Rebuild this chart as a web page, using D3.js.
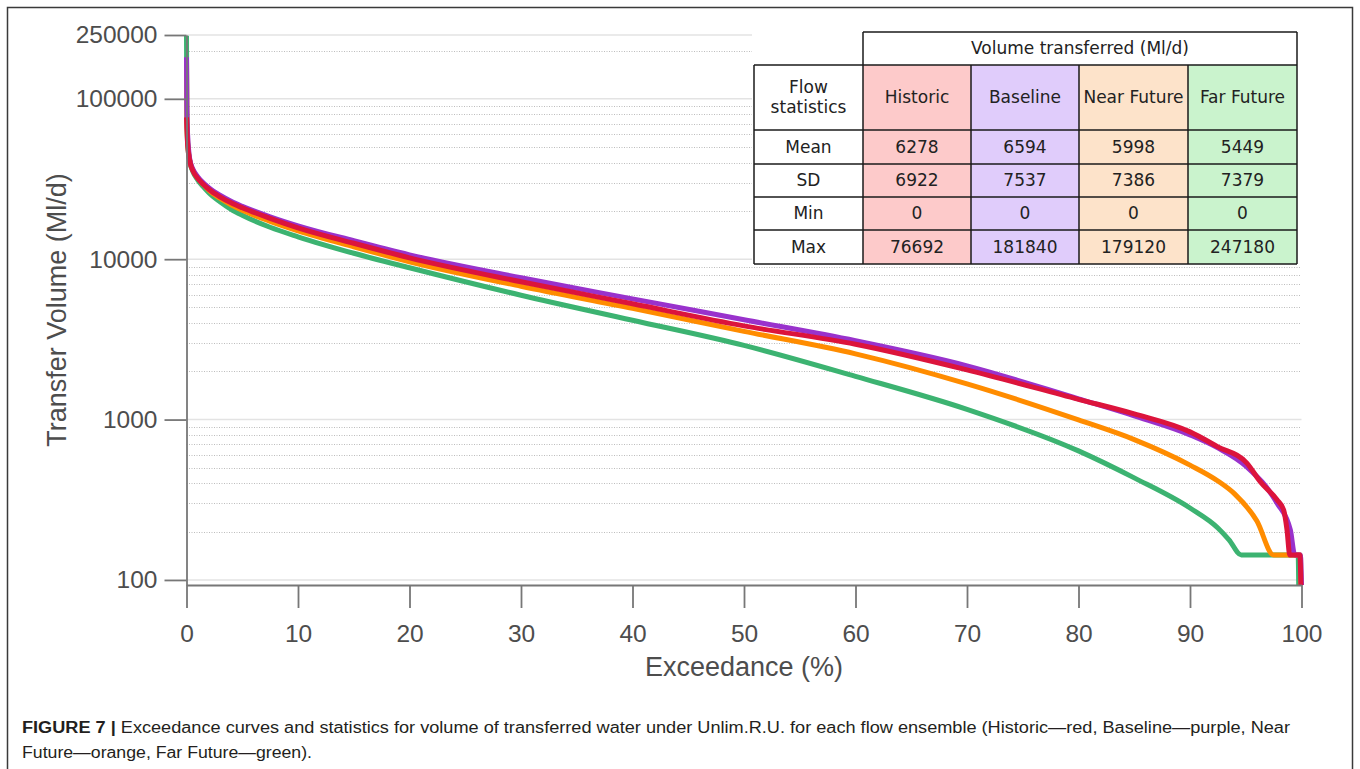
<!DOCTYPE html>
<html>
<head>
<meta charset="utf-8">
<script src="https://cdn.jsdelivr.net/npm/d3@7"></script>
<style>
  body { margin: 0; background: #fff; }
  svg { display: block; }
</style>
</head>
<body>
<div id="chartDiv"></div>
<script>
// exceedance (%) and transferred volume (Ml/d) per ensemble
var pctHistoric = [0, 0.05, 0.1, 0.3, 0.6, 1, 1.5, 2, 3, 4, 5, 7.5, 10, 15, 20, 30, 40, 50, 60, 70, 80, 85, 90, 92.5, 95.1, 96.3, 97.8, 98.4, 98.7, 98.95, 99.85, 99.95];
var volHistoric = [76692, 62000, 52000, 40800, 35300, 31960, 29330, 27300, 24500, 22480, 20930, 17990, 15700, 12570, 10200, 7230, 5270, 3840, 2950, 2042, 1337, 1085, 838, 676, 535, 410, 316, 273, 205, 143, 143, 0];

var pctBaseline = [0, 0.03, 0.1, 0.3, 0.6, 1, 1.5, 2, 3, 4, 5, 7.5, 10, 15, 20, 30, 40, 50, 60, 70, 80, 85, 90, 92.5, 95.1, 97.8, 99, 99.4, 99.9, 100];
var volBaseline = [181840, 90000, 60000, 41700, 36100, 32700, 29950, 27900, 25050, 22970, 21380, 18390, 16150, 13030, 10650, 7660, 5660, 4190, 3100, 2163, 1346, 1055, 803, 666, 507, 302, 205, 143, 143, 0];

var pctNear = [0, 0.03, 0.1, 0.3, 0.6, 1, 1.5, 2, 3, 4, 5, 7.5, 10, 15, 20, 30, 40, 50, 60, 70, 80, 85, 90, 92.5, 94, 96, 97.5, 99.9, 99.95];
var volNear = [179120, 85000, 55000, 41100, 35600, 32200, 29330, 26900, 23990, 21850, 20190, 17230, 15040, 11950, 9640, 6780, 4940, 3550, 2570, 1670, 995, 750, 520, 414, 344, 233, 143, 143, 0];

var pctFar = [0, 0.03, 0.1, 0.3, 0.6, 1, 1.5, 2, 3, 4, 5, 7.5, 10, 15, 20, 30, 40, 50, 60, 70, 80, 85, 90, 92.5, 93.5, 94.6, 99.7, 99.75];
var volFar = [247180, 85000, 53000, 40500, 34860, 31290, 28300, 25960, 22800, 20470, 18790, 15820, 13800, 10890, 8840, 5960, 4160, 2900, 1860, 1158, 638, 433, 281, 211, 178, 143, 143, 0];

// statistics table
var ensembles = ["Historic", "Baseline", "Near Future", "Far Future"];
var statNames = ["Mean", "SD", "Min", "Max"];
var statMean = [6278, 6594, 5998, 5449];
var statSD = [6922, 7537, 7386, 7379];
var statMin = [0, 0, 0, 0];
var statMax = [76692, 181840, 179120, 247180];

var xTicks = [0, 10, 20, 30, 40, 50, 60, 70, 80, 90, 100];
var yTicks = [100, 1000, 10000, 100000, 250000];

var lineColors = ["#dc143c", "#9932cc", "#ff8c00", "#3cb371"];
var cellColors = ["#fdcaca", "#e0ccfb", "#fde3ca", "#caf3cd"];

var swidth = 1360, sheight = 769;
var svg = d3.select("#chartDiv").append("svg")
    .attr("width", swidth)
    .attr("height", sheight);

// outer frame
svg.append("rect")
    .attr("x", 7.5).attr("y", 7.5)
    .attr("width", 1345).attr("height", 820)
    .attr("fill", "none").attr("stroke", "#3a3a3a").attr("stroke-width", 1.5);

var x = d3.scaleLinear().domain([0, 100]).range([186.5, 1301.5]);
var y = d3.scaleLog().domain([93, 250000]).range([585, 35]).clamp(true);

// minor values (2..9 x decade, plus 200000)
var yMinor = [];
[100, 1000, 10000, 100000].forEach(function(d) {
    for (var k = 2; k <= 9; k++) if (d * k <= 250000) yMinor.push(d * k);
});
var xMinor = d3.range(0, 101, 2).filter(function(d) { return d % 10 != 0; });

// grid
var grid = svg.append("g");
grid.selectAll(".gminor").data(yMinor).enter().append("line")
    .attr("x1", x(0)).attr("x2", x(100))
    .attr("y1", function(d) { return Math.round(y(d)) + 0.5; })
    .attr("y2", function(d) { return Math.round(y(d)) + 0.5; })
    .attr("stroke", "#bdbdbd").attr("stroke-width", 1)
    .attr("stroke-dasharray", "1,1.5");
grid.selectAll(".gmajor").data(yTicks).enter().append("line")
    .attr("x1", x(0)).attr("x2", x(100))
    .attr("y1", function(d) { return y(d); })
    .attr("y2", function(d) { return y(d); })
    .attr("stroke", "#e3e3e3").attr("stroke-width", 1.6);

// curves
var series = [
    {p: pctFar, v: volFar, c: lineColors[3]},
    {p: pctNear, v: volNear, c: lineColors[2]},
    {p: pctBaseline, v: volBaseline, c: lineColors[1]},
    {p: pctHistoric, v: volHistoric, c: lineColors[0]}
];
var line = d3.line()
    .x(function(d) { return x(d[0]); })
    .y(function(d) { return y(d[1]); })
    .curve(d3.curveMonotoneX);
svg.selectAll(".curve").data(series).enter().append("path")
    .attr("fill", "none")
    .attr("stroke", function(d) { return d.c; })
    .attr("stroke-width", 5)
    .attr("stroke-linejoin", "round")
    .attr("d", function(d) { return line(d3.zip(d.p, d.v)); });

// axes
var axisFont = "'Liberation Sans', Arial, sans-serif";
var gy = svg.append("g").attr("transform", "translate(" + x(0) + ",0)");
gy.call(d3.axisLeft(y).tickValues(yMinor).tickSize(11).tickSizeOuter(0).tickFormat(""));
gy.call(d3.axisLeft(y).tickValues(yTicks).tickSize(22).tickSizeOuter(0).tickPadding(7).tickFormat(d3.format("d")));
gy.selectAll("path, line").attr("stroke", "#777").attr("stroke-width", 1.8);
gy.selectAll("text").style("font", "24.5px " + axisFont).attr("fill", "#4d4d4d");

var gx = svg.append("g").attr("transform", "translate(0," + y.range()[0] + ")");
gx.call(d3.axisBottom(x).tickValues(xMinor).tickSize(12).tickSizeOuter(0).tickFormat(""));
gx.call(d3.axisBottom(x).tickValues(xTicks).tickSize(23).tickSizeOuter(0).tickPadding(17).tickFormat(d3.format("d")));
gx.selectAll("path, line").attr("stroke", "#777").attr("stroke-width", 1.8);
gx.selectAll("text").style("font", "24.5px " + axisFont).attr("fill", "#4d4d4d");

svg.append("text")
    .attr("x", (x(0) + x(100)) / 2).attr("y", 676)
    .attr("text-anchor", "middle")
    .style("font", "27px " + axisFont).attr("fill", "#4d4d4d")
    .text("Exceedance (%)");
svg.append("text")
    .attr("transform", "translate(66,310)rotate(-90)")
    .attr("text-anchor", "middle")
    .style("font", "27px " + axisFont).attr("fill", "#4d4d4d")
    .text("Transfer Volume (Ml/d)");

// statistics table
var tFont = "17px 'DejaVu Sans', Verdana, sans-serif";
var colX = [754, 863, 971, 1079, 1188, 1297];
var rowY = [32, 65, 130, 164, 197, 230, 264];
var rows = [statMean, statSD, statMin, statMax];
var tbl = svg.append("g");
tbl.append("rect").attr("x", 752).attr("y", 22).attr("width", 552).attr("height", 243).attr("fill", "#fff");
ensembles.forEach(function(e, i) {
    tbl.append("rect")
        .attr("x", colX[i + 1]).attr("y", rowY[1])
        .attr("width", colX[i + 2] - colX[i + 1]).attr("height", rowY[6] - rowY[1])
        .attr("fill", cellColors[i]);
});
var bColor = "#1a1a1a";
// horizontal borders
rowY.forEach(function(yy, j) {
    tbl.append("line")
        .attr("x1", j == 0 ? colX[1] : colX[0]).attr("x2", colX[5])
        .attr("y1", yy).attr("y2", yy)
        .attr("stroke", bColor).attr("stroke-width", 1.5);
});
// vertical borders
colX.forEach(function(xx, i) {
    var top = (i == 1 || i == 5) ? rowY[0] : rowY[1];
    tbl.append("line")
        .attr("x1", xx).attr("x2", xx)
        .attr("y1", top).attr("y2", rowY[6])
        .attr("stroke", bColor).attr("stroke-width", 1.5);
});
function cellText(cx, cy, t) {
    tbl.append("text")
        .attr("x", cx).attr("y", cy).attr("dy", "0.35em")
        .attr("text-anchor", "middle")
        .style("font", tFont).attr("fill", "#222")
        .text(t);
}
cellText((colX[1] + colX[5]) / 2, (rowY[0] + rowY[1]) / 2, "Volume transferred (Ml/d)");
cellText((colX[0] + colX[1]) / 2, (rowY[1] + rowY[2]) / 2 - 10, "Flow");
cellText((colX[0] + colX[1]) / 2, (rowY[1] + rowY[2]) / 2 + 10, "statistics");
ensembles.forEach(function(e, i) {
    cellText((colX[i + 1] + colX[i + 2]) / 2, (rowY[1] + rowY[2]) / 2, e);
});
statNames.forEach(function(s, j) {
    var cy = (rowY[j + 2] + rowY[j + 3]) / 2;
    cellText((colX[0] + colX[1]) / 2, cy, s);
    rows[j].forEach(function(v, i) {
        cellText((colX[i + 1] + colX[i + 2]) / 2, cy, v);
    });
});

// caption
var capFont = "'Liberation Sans Narrow', 'Arial Narrow', 'Liberation Sans', sans-serif";
var cap1 = svg.append("text").attr("x", 22).attr("y", 733)
    .attr("textLength", 1268).attr("lengthAdjust", "spacingAndGlyphs")
    .style("font", "16px " + capFont).attr("fill", "#231f20");
cap1.append("tspan").attr("font-weight", "bold").text("FIGURE 7 |");
cap1.append("tspan").text(" Exceedance curves and statistics for volume of transferred water under Unlim.R.U. for each flow ensemble (Historic\u2014red, Baseline\u2014purple, Near");
svg.append("text").attr("x", 22).attr("y", 758)
    .attr("textLength", 290).attr("lengthAdjust", "spacingAndGlyphs")
    .style("font", "16px " + capFont).attr("fill", "#231f20")
    .text("Future\u2014orange, Far Future\u2014green).");
</script>
</body>
</html>
